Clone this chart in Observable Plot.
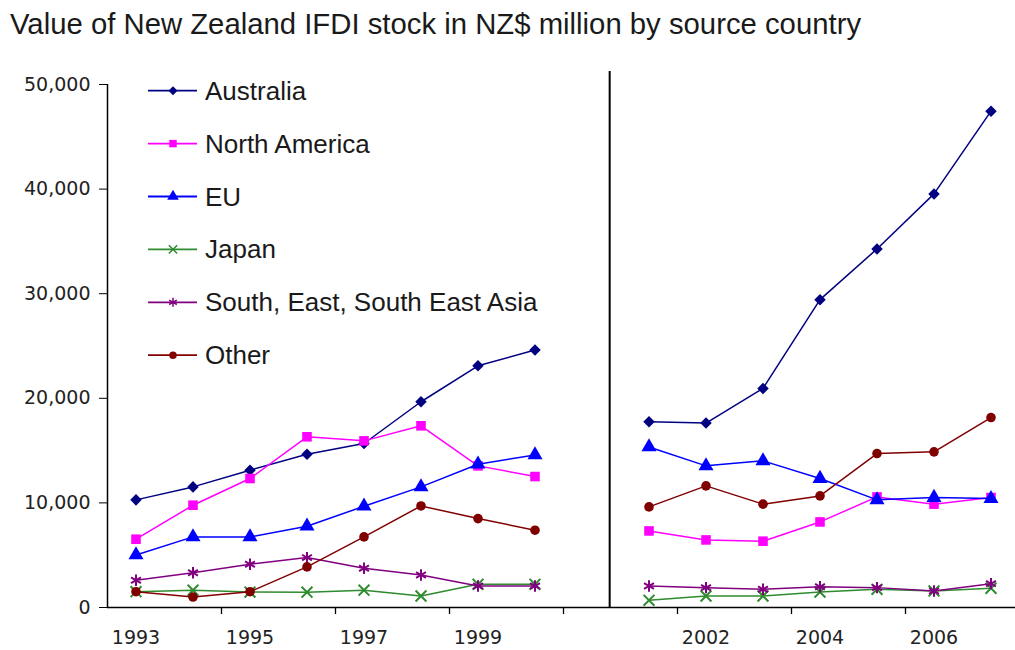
<!DOCTYPE html>
<html>
<head>
<meta charset="utf-8">
<script src="https://cdn.jsdelivr.net/npm/d3@7"></script>
<script src="https://cdn.jsdelivr.net/npm/@observablehq/plot@0.6"></script>
<style>
  body { margin: 0; background: #fff; }
  #wrap { position: relative; width: 1015px; height: 650px; overflow: hidden; background: #fff; }
  #title { position: absolute; left: 10px; top: 9px; font-family: "Liberation Sans", Arial, sans-serif;
           font-size: 29.3px; line-height: 1; color: #1a1a1a; white-space: nowrap; }
  #chart { position: absolute; left: 0; top: 50px; }
  #legend { position: absolute; left: 0; top: 0; pointer-events: none; }
</style>
</head>
<body>
<div id="wrap">
  <div id="title">Value of New Zealand IFDI stock in NZ$ million by source country</div>
  <div id="chart"></div>
  <svg id="legend" width="1015" height="650"></svg>
</div>
<script>
// ---- data (NZ$ million) ----
const years = [1993, 1994, 1995, 1996, 1997, 1998, 1999, 2000, 2001, 2002, 2003, 2004, 2005, 2006, 2007];
const breakAfter = 2000; // gap between the two periods
const series = ["Australia", "North America", "EU", "Japan", "South, East, South East Asia", "Other"];
const australia    = [10290, 11530, 13130, 14660, 15680, 19670, 23110, 24610, 17750, 17630, 20940, 29430, 34280, 39540, 47450];
const northAmerica = [6530, 9780, 12330, 16320, 15930, 17370, 13540, 12520, 7320, 6460, 6340, 8180, 10570, 9880, 10510];
const eu           = [5020, 6750, 6750, 7770, 9680, 11530, 13700, 14590, 15350, 13540, 14020, 12330, 10290, 10510, 10410];
const japan        = [1510, 1650, 1480, 1460, 1650, 1100, 2220, 2220, 690, 1100, 1100, 1480, 1740, 1580, 1840];
const asia         = [2600, 3330, 4130, 4770, 3750, 3110, 2060, 2060, 2060, 1900, 1740, 1990, 1900, 1580, 2280];
const other        = [1510, 1000, 1510, 3880, 6750, 9710, 8500, 7390, 9620, 11630, 9880, 10670, 14720, 14880, 18160];
const values = [australia, northAmerica, eu, japan, asia, other];

const colors  = ["#000080", "#ff00ff", "#0000ff", "#2e8b2e", "#800080", "#800000"];
const symbols = ["diamond2", "square", "triangle", "times", "asterisk", "circle"];
const filled  = [true, true, true, false, false, true];
const sizes   = [5.2, 5.4, 5.6, 5, 5.4, 4.8];

const yTicks = [0, 10000, 20000, 30000, 40000, 50000];
const yearLabels = [1993, 1995, 1997, 1999, 2002, 2004, 2006];

// category slot of each year (one empty slot between the periods)
const slot = yr => years.indexOf(yr) + (yr > breakAfter ? 1 : 0);
const nSlots = years.length + 1;
const boundaryTicks = d3.range(1.5, nSlots - 1, 2);
const separatorSlot = slot(breakAfter) + 1.31;
const separatorTop = 51250;

const rows = series.flatMap((s, k) => years.map((yr, i) => ({
  series: s, k, year: yr, value: values[k][i], period: yr > breakAfter ? "b" : "a"
})));

const marks = [
  Plot.axisY({ticks: yTicks, tickSize: 8, tickPadding: 9, tickFormat: d3.format(","), fontSize: 19, stroke: "#000", label: null}),
  Plot.axisX({ticks: yearLabels.map(slot), tickSize: 0, tickPadding: 23, tickFormat: i => String(years[i > slot(breakAfter) ? i - 1 : i]), fontSize: 19, label: null}),
  Plot.axisX({ticks: boundaryTicks, tickSize: 7, tickFormat: () => "", stroke: "#000", strokeWidth: 1.3, label: null}),
  Plot.ruleX([-0.5], {y1: 0, y2: 50000, stroke: "#000", strokeWidth: 1.5}),
  Plot.ruleY([0], {x1: -0.5, x2: nSlots - 0.5, stroke: "#000", strokeWidth: 1.5}),
  Plot.ruleX([separatorSlot], {y1: 0, y2: separatorTop, stroke: "#000", strokeWidth: 2})
];

series.forEach((s, k) => {
  const data = rows.filter(d => d.k === k);
  marks.push(Plot.line(data, {x: d => slot(d.year), y: "value", z: "period", stroke: colors[k], strokeWidth: 1.5}));
  marks.push(Plot.dot(data, {
    x: d => slot(d.year), y: "value", symbol: () => symbols[k], r: sizes[k],
    fill: filled[k] ? colors[k] : "none", stroke: filled[k] ? "none" : colors[k], strokeWidth: 2
  }));
});

const chart = Plot.plot({
  width: 1015,
  height: 600,
  marginTop: 34,
  marginBottom: 43,
  marginLeft: 107,
  marginRight: -4,
  x: {type: "linear", domain: [-0.5, nSlots - 0.5], label: null},
  y: {domain: [0, 50000], label: null},
  symbol: {type: "identity"},
  style: {fontFamily: "'DejaVu Sans', Verdana, sans-serif", fontSize: "19px", color: "#222", background: "white", overflow: "visible"},
  marks
});
document.getElementById("chart").appendChild(chart);

// ---- legend ----
const symMap = {diamond2: d3.symbolDiamond2, square: d3.symbolSquare, triangle: d3.symbolTriangle,
                times: d3.symbolTimes, asterisk: d3.symbolAsterisk, circle: d3.symbolCircle};
const leg = d3.select("#legend");
const legTop = 90.7, legStep = 52.9;
series.forEach((s, k) => {
  const y = legTop + k * legStep;
  const g = leg.append("g");
  g.append("line").attr("x1", 148).attr("x2", 197).attr("y1", y).attr("y2", y)
    .attr("stroke", colors[k]).attr("stroke-width", 1.8);
  g.append("path").attr("transform", `translate(173,${y})`)
    .attr("d", d3.symbol(symMap[symbols[k]], Math.PI * sizes[k] * sizes[k] * 0.6)())
    .attr("fill", filled[k] ? colors[k] : "none").attr("stroke", filled[k] ? "none" : colors[k]).attr("stroke-width", 1.5);
  g.append("text").attr("x", 205).attr("y", y + 9).text(s)
    .attr("font-family", "'Liberation Sans', Arial, sans-serif").attr("font-size", 26).attr("fill", "#1a1a1a");
});
</script>
</body>
</html>
